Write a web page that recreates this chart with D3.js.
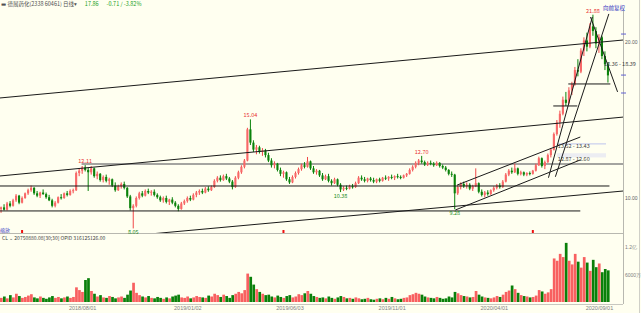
<!DOCTYPE html>
<html><head><meta charset="utf-8">
<script src="https://cdn.jsdelivr.net/npm/d3@7"></script>
<style>body{margin:0;background:#fffff0;overflow:hidden}svg{display:block;font-family:"Noto Sans CJK SC","DejaVu Sans",sans-serif}</style>
</head><body><svg id="c" width="641" height="313"></svg>
<script>
// [open, high, low, close]
const candles = [
[9.30,9.45,9.05,9.40],[9.40,9.60,9.20,9.25],[9.25,9.75,9.20,9.65],[9.65,9.80,9.40,9.50],[9.50,9.95,9.45,9.85],
[9.85,10.25,9.75,10.15],[10.15,10.20,9.60,9.70],[9.70,10.10,9.65,10.00],[10.00,10.35,9.95,10.30],[10.30,10.60,10.20,10.50],
[10.50,10.80,10.40,10.65],[10.65,10.70,10.20,10.30],[10.30,10.45,10.05,10.15],[10.15,10.40,10.00,10.35],[10.35,10.55,10.20,10.25],
[10.25,10.35,9.95,10.05],[10.05,10.20,9.80,9.85],[9.85,9.95,9.40,9.50],[9.50,9.80,9.40,9.70],[9.70,10.10,9.65,10.05],
[10.05,10.25,9.90,10.00],[10.00,10.35,9.95,10.30],[10.30,10.45,10.10,10.20],[10.20,10.55,10.15,10.45],[10.45,10.60,10.30,10.50],
[10.50,11.70,10.45,11.60],[11.60,11.90,11.40,11.75],[11.75,12.05,11.55,11.95],[11.95,12.11,11.70,11.80],[11.80,11.95,10.45,11.65],
[11.65,12.05,11.50,11.90],[11.90,11.95,11.30,11.40],[11.40,11.70,11.20,11.55],[11.55,11.60,11.05,11.15],[11.15,11.45,11.00,11.35],
[11.35,11.50,11.00,11.10],[11.10,11.30,10.85,11.20],[11.20,11.25,10.70,10.80],[10.80,11.00,10.40,10.50],[10.50,10.85,10.45,10.75],
[10.75,11.00,10.60,10.90],[10.90,11.05,10.55,10.65],[10.65,10.70,10.00,10.10],[10.10,10.20,9.20,9.35],[9.35,9.60,8.05,9.50],
[9.50,10.10,9.40,10.00],[10.00,10.40,9.90,10.30],[10.30,10.45,10.05,10.15],[10.15,10.55,10.10,10.45],[10.45,10.60,10.25,10.35],
[10.35,10.50,10.15,10.40],[10.40,10.55,10.10,10.20],[10.20,10.30,9.95,10.05],[10.05,10.15,9.75,9.85],[9.85,10.10,9.70,10.00],
[10.00,10.15,9.65,9.75],[9.75,9.95,9.55,9.90],[9.90,10.05,9.60,9.70],[9.70,9.80,9.40,9.50],[9.50,9.60,9.15,9.30],
[9.30,9.75,9.25,9.65],[9.65,9.90,9.55,9.80],[9.80,10.10,9.70,10.00],[10.00,10.15,9.80,9.90],[9.90,10.30,9.85,10.20],
[10.20,10.45,10.05,10.35],[10.35,10.55,10.20,10.45],[10.45,10.60,10.25,10.35],[10.35,10.70,10.30,10.60],[10.60,10.75,10.40,10.50],
[10.50,10.80,10.45,10.70],[10.70,11.20,10.65,11.10],[11.10,11.40,11.00,11.30],[11.30,11.45,11.05,11.15],[11.15,11.50,11.10,11.40],
[11.40,11.55,11.15,11.25],[11.25,11.35,10.95,11.05],[11.05,11.15,10.55,10.70],[10.70,11.40,10.65,11.30],[11.30,11.75,11.20,11.65],
[11.65,12.10,11.55,12.00],[12.00,12.50,11.90,12.40],[12.40,14.50,12.35,14.40],[14.40,15.04,13.40,13.55],[13.55,13.70,12.95,13.10],
[13.10,13.40,12.80,13.25],[13.25,13.35,12.85,12.95],[12.95,13.20,12.70,13.05],[13.05,13.15,12.60,12.75],[12.75,12.90,12.30,12.40],
[12.40,12.55,11.95,12.10],[12.10,12.35,11.90,12.20],[12.20,12.25,11.70,11.80],[11.80,11.95,11.40,11.55],[11.55,11.75,11.30,11.65],
[11.65,11.70,11.10,11.20],[11.20,11.35,10.90,11.00],[11.00,11.45,10.95,11.35],[11.35,11.70,11.25,11.60],[11.60,11.95,11.50,11.85],
[11.85,12.20,11.75,12.10],[12.10,12.30,11.90,12.00],[12.00,12.63,11.95,12.35],[12.35,12.40,11.80,11.90],[11.90,12.05,11.55,11.65],
[11.65,11.85,11.50,11.75],[11.75,11.80,11.35,11.45],[11.45,11.60,11.10,11.20],[11.20,11.50,11.15,11.40],[11.40,11.55,11.00,11.10],
[11.10,11.20,10.80,10.95],[10.95,11.30,10.90,11.20],[11.20,11.25,10.75,10.85],[10.85,10.95,10.38,10.55],[10.55,10.75,10.45,10.65],
[10.65,10.80,10.50,10.60],[10.60,10.85,10.55,10.75],[10.75,10.90,10.60,10.70],[10.70,11.05,10.65,10.95],[10.95,11.40,10.90,11.30],
[11.30,11.45,11.10,11.20],[11.20,11.35,11.00,11.10],[11.10,11.30,11.00,11.25],[11.25,11.35,11.05,11.15],[11.15,11.30,10.95,11.05],
[11.05,11.25,10.95,11.20],[11.20,11.30,11.00,11.10],[11.10,11.35,11.05,11.30],[11.30,11.45,11.15,11.25],[11.25,11.40,11.10,11.35],
[11.35,11.50,11.20,11.30],[11.30,11.45,11.15,11.40],[11.40,11.55,11.25,11.35],[11.35,11.45,11.20,11.30],[11.30,11.50,11.25,11.45],
[11.45,11.60,11.35,11.55],[11.55,11.90,11.50,11.80],[11.80,12.10,11.70,12.00],[12.00,12.35,11.90,12.25],[12.25,12.50,12.10,12.40],
[12.40,12.70,12.20,12.30],[12.30,12.40,12.05,12.15],[12.15,12.35,12.05,12.25],[12.25,12.40,12.10,12.20],[12.20,12.30,12.00,12.10],
[12.10,12.35,12.05,12.25],[12.25,12.30,11.95,12.05],[12.05,12.15,11.85,11.95],[11.95,12.05,11.70,11.80],[11.80,11.85,11.45,11.55],
[11.55,11.70,11.35,11.50],[11.50,11.55,9.28,10.30],[10.30,10.80,10.20,10.70],[10.70,11.00,10.55,10.90],[10.90,11.05,10.65,10.75],
[10.75,11.00,10.60,10.85],[10.85,10.95,10.50,10.60],[10.60,10.85,10.45,10.75],[10.75,11.90,10.70,10.95],[10.95,11.00,10.30,10.40],
[10.40,10.55,10.10,10.20],[10.20,10.45,10.05,10.35],[10.35,10.50,10.15,10.25],[10.25,10.55,10.20,10.50],[10.50,10.75,10.40,10.65],
[10.65,10.90,10.55,10.80],[10.80,10.95,10.60,10.70],[10.70,11.15,10.65,11.05],[11.05,11.60,11.00,11.50],[11.50,11.85,11.40,11.75],
[11.75,11.95,11.55,11.65],[11.65,12.20,11.60,11.90],[11.90,11.95,11.45,11.55],[11.55,11.75,11.45,11.65],[11.65,11.70,11.40,11.50],
[11.50,11.65,11.40,11.60],[11.60,11.70,11.45,11.55],[11.55,11.80,11.50,11.75],[11.75,12.20,11.70,12.10],[12.10,12.65,12.05,12.55],
[12.55,12.60,11.95,12.05],[12.05,12.40,11.85,12.30],[12.30,12.85,12.25,12.75],[12.75,13.20,12.60,13.10],[13.10,14.20,13.05,14.10],
[14.10,15.00,14.00,14.85],[14.85,15.60,14.50,15.40],[15.40,16.50,15.30,16.30],[16.30,16.80,15.90,16.10],[16.10,17.10,16.00,16.90],
[16.90,17.45,16.60,17.30],[17.30,18.40,17.20,18.20],[18.20,18.90,17.80,18.10],[18.10,19.60,18.00,19.45],[19.45,20.30,19.10,20.10],
[20.10,20.60,19.40,19.70],[19.70,21.20,19.60,21.00],[21.00,21.75,20.40,20.70],[20.70,20.95,19.60,19.90],[19.90,20.50,19.30,20.30],
[20.30,20.40,18.90,19.10],[19.10,19.40,18.20,18.57],[18.57,18.70,17.40,17.86]
];
// volume, in 万 shares
const volumes = [
900,1200,800,1500,1000,1800,1300,900,1100,1400,1700,1000,800,1200,900,700,1000,1300,900,1100,800,1000,1200,900,1100,
3200,2600,2200,4800,5200,2400,
1800,1200,1500,1000,900,1300,1100,800,1000,1200,900,
1600,2500,4200,
2000,1500,1200,1000,1300,900,800,1100,
900,700,1000,800,1200,1400,1600,1000,900,1200,800,1000,1300,1100,
1000,900,1400,1200,1800,1500,1100,1600,1300,900,1500,1800,2200,1900,2600,
6200,5500,3800,2800,2200,1800,1500,
1600,1200,1000,1400,1100,900,1300,1500,1000,1200,1700,1500,1900,2400,1800,1300,1100,900,1000,800,1200,900,700,1000,1300,1100,800,900,700,1000,
800,600,700,900,600,500,700,800,600,900,700,1100,800,600,700,900,1000,1500,1700,2000,1800,1600,1200,1000,900,800,1100,900,700,800,1200,1000,
2200,1900,1500,1300,1200,1000,1100,2400,1600,1200,1000,900,800,1000,1300,1100,1600,2200,2500,3600,2800,2000,1500,1300,1200,1000,1100,1400,2600,2300,1800,2100,2800,
9500,9000,10500,9800,12900,9000,8200,10500,8800,7500,9800,8600,6800,9200,7600,8400,6500,7200,6900
];
const dateTickIndex = [27,62,96,130,164,199];
const dateTickLabels = ["2018/08/01","2019/01/02","2019/06/03","2019/11/01","2020/04/01","2020/09/01"];
const priceTicks = [10, 20];
const volumeTicks = [6000, 12000];
const volumeTickLabels = ["6000万","1.2亿"];
// trend lines: [[index, price],[index, price]]
const blackLines = [
 [[-0.5,16.41],[207.2,20.13]],
 [[-0.5,11.41],[207.2,15.19]],
 [[46,7.63],[207.2,10.45]],
 [[-0.5,10.77],[202.5,10.77]],
 [[-0.5,9.17],[192.8,9.17]],
 [[151.2,9.23],[192.8,12.44]],
 [[151.8,10.83],[192.8,13.91]],
 [[182.2,11.30],[196.8,21.60]],
 [[184.5,11.36],[202.3,21.80]],
 [[196.2,21.60],[205.2,16.80]],
 [[188.8,17.31],[202.8,17.31]],
 [[183.8,15.90],[191.8,15.90]]
];
const grayLines = [ [[26.8,12.18],[207.2,12.18]] ];
const zones = [[13.52,13.43],[12.87,12.60]];
const zoneLabels = ["13.52 - 13.43","12.87 - 12.60"];
const zoneStart = 185;
const extremes = [[197,21.88,"high"],[83,15.04,"high"],[28,12.11,"high"],[140,12.70,"high"],[113,10.38,"low"],[151,9.28,"low"],[44,8.05,"low"]];
const markerIndex = [7, 94, 177];
const sideMarks = [20.51, 17.88, 16.73];

const n = candles.length;
const svg = d3.select("#c");
const W = 641, H = 313;
const plotR = 623, mainTop = 10, mainBot = 233, volTop = 234, volBot = 304;

svg.append("rect").attr("width",W).attr("height",H).attr("fill","#fffff0");

const x = d3.scaleBand().domain(d3.range(n)).range([0, 3*n]).paddingInner(0.3);
const bw = x.bandwidth();
const xi = d3.scaleLinear().domain([0, n-1]).range([x(0)+bw/2, x(n-1)+bw/2]);
const y = d3.scaleLinear().domain([10,20]).range([198,42]);
const yv = d3.scaleLinear().domain([0,12000]).range([302,247]);

const defs = svg.append("defs");
defs.append("clipPath").attr("id","mclip").append("rect").attr("x",0).attr("y",mainTop).attr("width",plotR).attr("height",mainBot-mainTop);

// frames
svg.append("line").attr("x1",plotR+0.5).attr("x2",plotR+0.5).attr("y1",mainTop).attr("y2",volBot).attr("stroke","#b8b8b0");
svg.append("line").attr("x1",0).attr("x2",plotR).attr("y1",volTop-0.5).attr("y2",volTop-0.5).attr("stroke","#b8b8b0");
svg.append("line").attr("x1",0).attr("x2",plotR).attr("y1",volBot+0.5).attr("y2",volBot+0.5).attr("stroke","#c8c8c0");
svg.append("line").attr("x1",639.5).attr("x2",639.5).attr("y1",0).attr("y2",H).attr("stroke","#d0d0c8");

const main = svg.append("g").attr("clip-path","url(#mclip)");

// zones
main.selectAll("rect.zone").data(zones).join("rect")
 .attr("x", xi(zoneStart)).attr("width", 606 - xi(zoneStart))
 .attr("y", d=>y(d[0])).attr("height", d=>Math.max(1.5, y(d[1])-y(d[0])))
 .attr("fill",(d,i)=> i===0? "#d4d8ee":"#ecedf2");

// gray line
main.selectAll("line.gray").data(grayLines).join("line")
 .attr("x1",d=>xi(d[0][0])).attr("y1",d=>y(d[0][1])).attr("x2",d=>xi(d[1][0])).attr("y2",d=>y(d[1][1]))
 .attr("stroke","#a4a4a0").attr("stroke-width",2);

// candles
const up = d => d[3] >= d[0];
const cg = main.append("g");
cg.selectAll("line").data(candles).join("line")
 .attr("x1",(d,i)=>x(i)+bw/2).attr("x2",(d,i)=>x(i)+bw/2)
 .attr("y1",d=>y(d[1])).attr("y2",d=>y(d[2]))
 .attr("stroke",d=>up(d)?"#f04848":"#0a820a").attr("stroke-width",1);
cg.selectAll("rect").data(candles).join("rect")
 .attr("x",(d,i)=>x(i)).attr("width",bw)
 .attr("y",d=>y(Math.max(d[0],d[3])))
 .attr("height",d=>Math.max(1, Math.abs(y(d[0])-y(d[3]))))
 .attr("fill",d=>up(d)?"#f86868":"#0a820a");

// trend lines
main.selectAll("line.tl").data(blackLines).join("line")
 .attr("x1",d=>xi(d[0][0])).attr("y1",d=>y(d[0][1])).attr("x2",d=>xi(d[1][0])).attr("y2",d=>y(d[1][1]))
 .attr("stroke","#1a1a1a").attr("stroke-width",1);

// zone labels
main.selectAll("text.zl").data(zones).join("text")
 .attr("x", xi(zoneStart)+1).attr("y", d=>y(d[1])+3.5)
 .attr("font-size",5.5).attr("fill","#404040").text((d,i)=>zoneLabels[i]);
svg.append("text").attr("x",604).attr("y",y(18.36)-1.5).attr("font-size",5.5).attr("fill","#404040").text("18.36 - 18.39");

// extreme labels
svg.selectAll("text.ex").data(extremes).join("text")
 .attr("x",d=>xi(d[0])).attr("text-anchor","middle")
 .attr("y",d=> d[2]==="high" ? y(candles[d[0]][1]) - 2 : y(candles[d[0]][2]) + 6)
 .attr("font-size",5.5).attr("fill",d=>d[2]==="high"?"#e83030":"#208a20")
 .text(d=>d[1].toFixed(2));

// red markers
svg.selectAll("rect.mk").data(markerIndex).join("rect")
 .attr("x",d=>xi(d)-1).attr("y",230).attr("width",2).attr("height",3).attr("fill","#ee1010");

// side marks
svg.selectAll("line.sm").data(sideMarks).join("line")
 .attr("x1",621).attr("x2",626).attr("y1",d=>y(d)).attr("y2",d=>y(d)).attr("stroke","#6060d0");

// price axis
const pa = svg.append("g").attr("transform",`translate(${plotR+1},0)`).call(d3.axisRight(y).tickValues(priceTicks).tickFormat(d3.format(".2f")).tickSize(0).tickPadding(1));
pa.select(".domain").remove();
pa.selectAll("text").attr("font-size",5).attr("fill","#606060");

// volume
svg.append("g").selectAll("rect").data(volumes).join("rect")
 .attr("x",(d,i)=>x(i)).attr("width",bw+0.6)
 .attr("y",d=>yv(d)).attr("height",d=>yv(0)-yv(d))
 .attr("fill",(d,i)=>up(candles[i])?"#f86060":"#0a800a");
const va = svg.append("g").attr("transform",`translate(${plotR+1},0)`).call(d3.axisRight(yv).tickValues(volumeTicks).tickFormat((d,i)=>volumeTickLabels[i]).tickSize(0).tickPadding(1));
va.select(".domain").remove();
va.selectAll("text").attr("font-size",5).attr("fill","#808080");

// date axis
const da = svg.append("g").attr("transform",`translate(0,${volBot})`).call(d3.axisBottom(xi).tickValues(dateTickIndex).tickFormat((d,i)=>dateTickLabels[i]).tickSize(0).tickPadding(2));
da.select(".domain").remove();
da.selectAll("text").attr("font-size",5.5).attr("fill","#808080");

// header
const hd = svg.append("text").attr("x",1).attr("y",6).attr("font-size",5.5);
hd.append("tspan").attr("fill","#505050").text("▬ 德展药化(2338 60461)  日线▾");
hd.append("tspan").attr("fill","#20a020").attr("dx",8).text("17.86");
hd.append("tspan").attr("fill","#20a020").attr("dx",8).text("-0.71 / -3.82%");
svg.append("text").attr("x",603).attr("y",10).attr("font-size",5.5).attr("fill","#3030c0").text("向前复权");
svg.append("text").attr("x",0).attr("y",232).attr("font-size",5).attr("fill","#3030c0").text("缩放");
svg.append("text").attr("x",2).attr("y",240).attr("font-size",5).attr("fill","#404040").text("CL ⌄  20750880.08[30;30]  OPID 316125126.00");
</script></body></html>
